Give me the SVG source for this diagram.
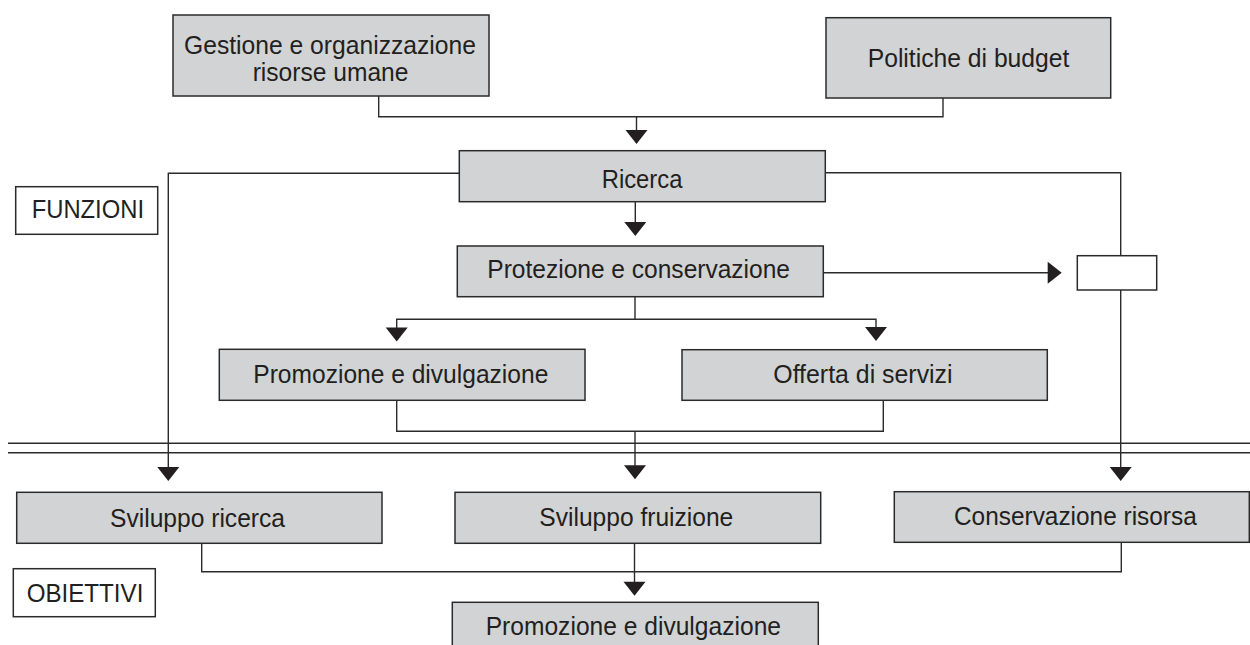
<svg xmlns="http://www.w3.org/2000/svg" xmlns:xlink="http://www.w3.org/1999/xlink" width="1250" height="645" viewBox="0 0 1250 645">
<style>
.box{fill:#d1d3d4;stroke:#2b2b2b;stroke-width:1.5}
.lbl{fill:#ffffff;stroke:#2b2b2b;stroke-width:1.5}
.t{font-family:"Liberation Sans",Arial,sans-serif;font-size:25px;fill:#231f20}
.ln{fill:none;stroke:#2b2b2b;stroke-width:1.4}
.ah{fill:#231f20}
</style>
<defs>
<path id="ad" d="M0,0 L-11,-14 L11,-14 Z"/>
<path id="ar" d="M0,0 L-14,-11 L-14,11 Z"/>
</defs>
<rect width="1250" height="645" fill="#ffffff"/>
<g id="connectors">
<path class="ln" d="M378.7,96 V116.7 H943 V98"/>
<path class="ln" d="M636.5,116.7 V132"/>
<use href="#ad" class="ah" x="636.5" y="144"/>
<path class="ln" d="M459.3,173.3 H168.3 V468"/>
<use href="#ad" class="ah" x="168.3" y="481"/>
<path class="ln" d="M825.3,172.7 H1120.7 V255.7"/>
<path class="ln" d="M1120.7,290 V468"/>
<use href="#ad" class="ah" x="1120.7" y="481"/>
<path class="ln" d="M635.3,201.7 V223"/>
<use href="#ad" class="ah" x="635.3" y="236"/>
<path class="ln" d="M823.3,272.7 H1049"/>
<use href="#ar" class="ah" x="1061.7" y="272.7"/>
<path class="ln" d="M635,296.7 V319.3 M396.7,328 V319.3 H876 V328"/>
<use href="#ad" class="ah" x="396.7" y="341.5"/>
<use href="#ad" class="ah" x="876" y="341"/>
<path class="ln" d="M396.7,400.3 V431.3 H883.3 V400.3"/>
<path class="ln" d="M635,431.3 V467"/>
<use href="#ad" class="ah" x="635" y="479.3"/>
<path class="ln" d="M8,443.3 H1250 M8,452.7 H1250"/>
<path class="ln" d="M201.7,543.3 V571.7 H1121.3 V542.3"/>
<path class="ln" d="M634.5,543.3 V583"/>
<use href="#ad" class="ah" x="634.5" y="595.7"/>
</g>
<g id="gestione">
<rect class="box" x="173" y="15" width="316" height="81"/>
<text class="t" x="184" y="54" textLength="292" lengthAdjust="spacingAndGlyphs">Gestione e organizzazione</text>
<text class="t" x="252.7" y="81" textLength="155.7" lengthAdjust="spacingAndGlyphs">risorse umane</text>
</g>
<g id="politiche">
<rect class="box" x="826" y="17.7" width="284.7" height="80.3"/>
<text class="t" x="867.7" y="66.7" textLength="201.7" lengthAdjust="spacingAndGlyphs">Politiche di budget</text>
</g>
<g id="ricerca">
<rect class="box" x="459.3" y="150.7" width="366" height="51"/>
<text class="t" x="601.7" y="188.3" textLength="80.7" lengthAdjust="spacingAndGlyphs">Ricerca</text>
</g>
<g id="funzioni">
<rect class="lbl" x="15.7" y="186.7" width="142" height="47.6"/>
<text class="t" x="31.7" y="218.3" textLength="112.3" lengthAdjust="spacingAndGlyphs">FUNZIONI</text>
</g>
<g id="protezione">
<rect class="box" x="457.3" y="246" width="366" height="50.7"/>
<text class="t" x="487.3" y="278.3" textLength="302.7" lengthAdjust="spacingAndGlyphs">Protezione e conservazione</text>
</g>
<g id="vuoto">
<rect class="lbl" x="1077.3" y="255.7" width="79.4" height="34.3"/>
</g>
<g id="promozione-f">
<rect class="box" x="219.3" y="349.3" width="365.7" height="51"/>
<text class="t" x="253.3" y="382.7" textLength="295" lengthAdjust="spacingAndGlyphs">Promozione e divulgazione</text>
</g>
<g id="offerta">
<rect class="box" x="682" y="349.7" width="365.3" height="50.6"/>
<text class="t" x="773.3" y="382.7" textLength="179.3" lengthAdjust="spacingAndGlyphs">Offerta di servizi</text>
</g>
<g id="sviluppo-ricerca">
<rect class="box" x="16.7" y="492.3" width="365.3" height="51"/>
<text class="t" x="110" y="526.7" textLength="175" lengthAdjust="spacingAndGlyphs">Sviluppo ricerca</text>
</g>
<g id="sviluppo-fruizione">
<rect class="box" x="455" y="492.3" width="365.7" height="51"/>
<text class="t" x="539.3" y="526" textLength="194" lengthAdjust="spacingAndGlyphs">Sviluppo fruizione</text>
</g>
<g id="conservazione">
<rect class="box" x="894.3" y="491.7" width="355" height="50.6"/>
<text class="t" x="954" y="525" textLength="242.7" lengthAdjust="spacingAndGlyphs">Conservazione risorsa</text>
</g>
<g id="obiettivi">
<rect class="lbl" x="13.3" y="568.7" width="142" height="48"/>
<text class="t" x="26.7" y="601.7" textLength="116.7" lengthAdjust="spacingAndGlyphs">OBIETTIVI</text>
</g>
<g id="promozione-o">
<rect class="box" x="452.3" y="602.3" width="366" height="60"/>
<text class="t" x="485.7" y="635" textLength="295.3" lengthAdjust="spacingAndGlyphs">Promozione e divulgazione</text>
</g>
</svg>
